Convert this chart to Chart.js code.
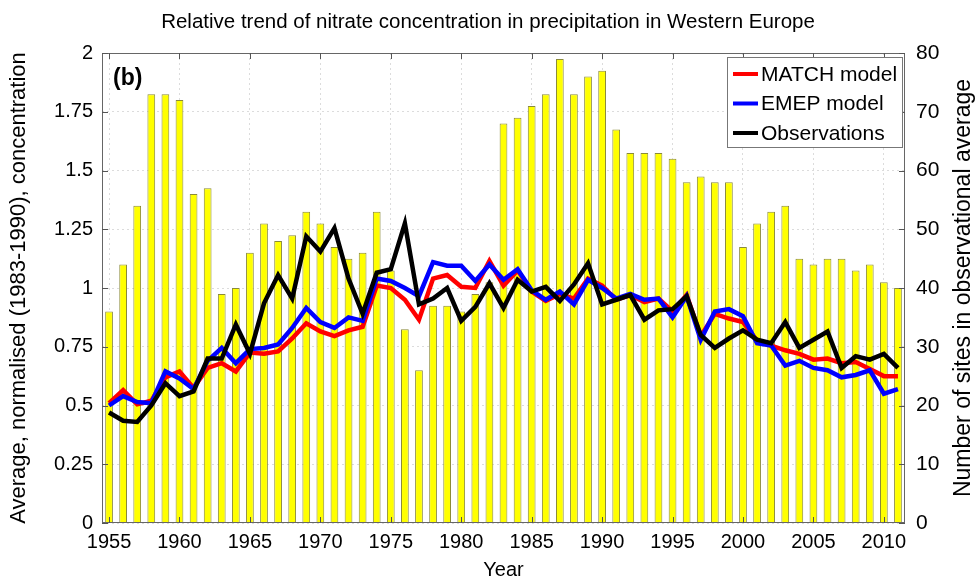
<!DOCTYPE html>
<html>
<head>
<meta charset="utf-8">
<script src="https://cdn.jsdelivr.net/npm/chart.js@4.4.1/dist/chart.umd.min.js"></script>
<style>
  html, body { margin: 0; padding: 0; background: #fff; }
  #wrap { width: 976px; height: 583px; }
</style>
</head>
<body>
<div id="wrap"><canvas id="nitrateChart" width="976" height="583"></canvas></div>
<script>
// years on the x axis
const years = [
  1955, 1956, 1957, 1958, 1959, 1960, 1961, 1962, 1963, 1964,
  1965, 1966, 1967, 1968, 1969, 1970, 1971, 1972, 1973, 1974,
  1975, 1976, 1977, 1978, 1979, 1980, 1981, 1982, 1983, 1984,
  1985, 1986, 1987, 1988, 1989, 1990, 1991, 1992, 1993, 1994,
  1995, 1996, 1997, 1998, 1999, 2000, 2001, 2002, 2003, 2004,
  2005, 2006, 2007, 2008, 2009, 2010, 2011
];

// number of sites in the observational average (right axis, bars)
const siteCounts = [
  36, 44, 54, 73, 73, 72, 56, 57, 39, 40,
  46, 51, 48, 49, 53, 51, 47, 45, 46, 53,
  43, 33, 26, 37, 37, 36, 39, 41, 68, 69,
  71, 73, 79, 73, 76, 77, 67, 63, 63, 63,
  62, 58, 59, 58, 58, 47, 51, 53, 54, 45,
  44, 45, 45, 43, 44, 41, 40
];

// MATCH model, normalised concentration
const matchModel = [
  0.51, 0.565, 0.505, 0.52, 0.62, 0.645, 0.575, 0.66, 0.68, 0.645,
  0.725, 0.72, 0.73, 0.785, 0.85, 0.815, 0.795, 0.82, 0.835, 1.01,
  1.0, 0.95, 0.865, 1.04, 1.055, 1.005, 1.0, 1.115, 1.01, 1.075,
  0.985, 0.945, 0.975, 0.955, 1.04, 1.01, 0.95, 0.97, 0.94, 0.955,
  0.9, 0.97, 0.795, 0.89, 0.87, 0.855, 0.775, 0.755, 0.735, 0.72,
  0.695, 0.70, 0.68, 0.685, 0.655, 0.625, 0.625
];

// EMEP model, normalised concentration
const emepModel = [
  0.50, 0.54, 0.515, 0.51, 0.645, 0.615, 0.57, 0.69, 0.745, 0.68,
  0.74, 0.745, 0.76, 0.83, 0.915, 0.855, 0.83, 0.875, 0.86, 1.04,
  1.03, 1.0, 0.965, 1.11, 1.095, 1.095, 1.03, 1.10, 1.035, 1.08,
  0.99, 0.95, 0.985, 0.93, 1.035, 1.0, 0.955, 0.975, 0.95, 0.955,
  0.875, 0.965, 0.78, 0.9, 0.91, 0.88, 0.765, 0.755, 0.67, 0.69,
  0.66, 0.65, 0.62, 0.63, 0.65, 0.55, 0.57
];

// observations, normalised concentration
const observations = [
  0.47, 0.435, 0.43, 0.50, 0.595, 0.54, 0.56, 0.70, 0.70, 0.845,
  0.72, 0.935, 1.055, 0.955, 1.22, 1.155, 1.255, 1.04, 0.89, 1.065,
  1.08, 1.275, 0.93, 0.955, 1.0, 0.86, 0.92, 1.02, 0.915, 1.035,
  0.985, 1.005, 0.945, 1.015, 1.105, 0.93, 0.95, 0.97, 0.865, 0.905,
  0.91, 0.965, 0.80, 0.745, 0.785, 0.82, 0.78, 0.765, 0.855, 0.745,
  0.78, 0.815, 0.66, 0.71, 0.695, 0.72, 0.66
];

const FONT = "'Liberation Sans', Arial, sans-serif";

// 枠線・内向き目盛り・凡例・(b)・右軸タイトルを描くプラグイン
const decorations = {
  id: 'decorations',
  afterDatasetsDraw(chart) {
    const { ctx, chartArea: a, scales } = chart;
    ctx.save();

    // frame
    ctx.strokeStyle = '#666';
    ctx.lineWidth = 1;
    ctx.strokeRect(a.left + 0.5, a.top + 0.5, a.right - a.left - 1, a.bottom - a.top - 1);

    // inward ticks
    ctx.strokeStyle = '#555';
    ctx.beginPath();
    scales.x.ticks.forEach((t, i) => {
      if (years[t.value] % 5 !== 0) return;
      const px = Math.round(scales.x.getPixelForTick(i)) + 0.5;
      ctx.moveTo(px, a.top); ctx.lineTo(px, a.top + 6);
      ctx.moveTo(px, a.bottom); ctx.lineTo(px, a.bottom - 6);
    });
    scales.y.ticks.forEach(t => {
      const py = Math.round(scales.y.getPixelForValue(t.value)) + 0.5;
      ctx.moveTo(a.left, py); ctx.lineTo(a.left + 6, py);
    });
    scales.y1.ticks.forEach(t => {
      const py = Math.round(scales.y1.getPixelForValue(t.value)) + 0.5;
      ctx.moveTo(a.right, py); ctx.lineTo(a.right - 6, py);
    });
    ctx.stroke();

    // panel label
    ctx.fillStyle = '#000';
    ctx.font = 'bold 23px ' + FONT;
    ctx.textAlign = 'left';
    ctx.textBaseline = 'middle';
    ctx.fillText('(b)', a.left + 11, a.top + 26);

    // legend (line datasets only)
    const lines = chart.data.datasets.filter(d => d.type === 'line')
      .sort((p, q) => p.legendIndex - q.legendIndex);
    const bx = 727, by = 57, bw = 175, bh = 90;
    ctx.fillStyle = '#fff';
    ctx.fillRect(bx, by, bw, bh);
    ctx.strokeStyle = '#777';
    ctx.lineWidth = 1;
    ctx.strokeRect(bx + 0.5, by + 0.5, bw, bh);
    ctx.font = '21px ' + FONT;
    lines.forEach((d, i) => {
      const ly = by + 17 + i * 29.5;
      ctx.strokeStyle = d.borderColor;
      ctx.lineWidth = 4;
      ctx.beginPath();
      ctx.moveTo(bx + 6, ly); ctx.lineTo(bx + 31, ly);
      ctx.stroke();
      ctx.fillStyle = '#000';
      ctx.fillText(d.label, bx + 34, ly + 1);
    });

    // right axis title, reading bottom to top
    ctx.save();
    ctx.translate(970, (a.top + a.bottom) / 2);
    ctx.rotate(-Math.PI / 2);
    ctx.textAlign = 'center';
    ctx.textBaseline = 'alphabetic';
    ctx.font = '23px ' + FONT;
    ctx.fillStyle = '#000';
    ctx.fillText('Number of sites in observational average', 0, 0);
    ctx.restore();

    ctx.restore();
  }
};

const gridColor = '#dcdcdc';

new Chart(document.getElementById('nitrateChart'), {
  type: 'bar',
  data: {
    labels: years,
    datasets: [
      {
        type: 'line',
        label: 'Observations',
        legendIndex: 2,
        data: observations,
        borderColor: '#000000',
        borderWidth: 4.5,
        pointRadius: 0,
        tension: 0,
        yAxisID: 'y',
        order: 1
      },
      {
        type: 'line',
        label: 'EMEP model',
        legendIndex: 1,
        data: emepModel,
        borderColor: '#0000ff',
        borderWidth: 4.5,
        pointRadius: 0,
        tension: 0,
        yAxisID: 'y',
        order: 2
      },
      {
        type: 'line',
        label: 'MATCH model',
        legendIndex: 0,
        data: matchModel,
        borderColor: '#ff0000',
        borderWidth: 4.5,
        pointRadius: 0,
        tension: 0,
        yAxisID: 'y',
        order: 3
      },
      {
        type: 'bar',
        label: 'Sites',
        data: siteCounts,
        backgroundColor: '#ffff00',
        borderColor: '#8a8a3a',
        borderWidth: 1,
        barPercentage: 0.55,
        categoryPercentage: 1.0,
        yAxisID: 'y1',
        order: 4
      }
    ]
  },
  options: {
    responsive: false,
    animation: false,
    layout: { padding: 0 },
    plugins: {
      legend: { display: false },
      tooltip: { enabled: false },
      title: {
        display: true,
        text: 'Relative trend of nitrate concentration in precipitation in Western Europe',
        color: '#000',
        font: { family: FONT, size: 20.5, weight: 'normal' },
        padding: { top: 10, bottom: 18.4 }
      }
    },
    scales: {
      x: {
        offset: true,
        grid: { offset: false, color: gridColor, drawTicks: false },
        border: { display: false, dash: [2, 3] },
        ticks: {
          autoSkip: false,
          maxRotation: 0,
          padding: 7,
          color: '#000',
          font: { family: FONT, size: 20 },
          callback: function (v) {
            const yr = years[v];
            return yr % 5 === 0 ? String(yr) : null;
          }
        },
        title: {
          display: true,
          text: 'Year',
          color: '#000',
          font: { family: FONT, size: 20 },
          padding: { top: 0, bottom: 1 }
        },
        afterFit: s => { s.height = 60; }
      },
      y: {
        position: 'left',
        min: 0,
        max: 2,
        grid: { color: gridColor, drawTicks: false },
        border: { display: false, dash: [2, 3] },
        ticks: {
          stepSize: 0.25,
          padding: 9,
          color: '#000',
          font: { family: FONT, size: 20 },
          callback: v => String(v)
        },
        title: {
          display: true,
          text: 'Average, normalised (1983-1990), concentration',
          color: '#000',
          font: { family: FONT, size: 22 },
          padding: { top: 6, bottom: 0 }
        },
        afterFit: s => { s.width = 102; }
      },
      y1: {
        position: 'right',
        min: 0,
        max: 80,
        grid: { drawOnChartArea: false, drawTicks: false },
        border: { display: false },
        ticks: {
          stepSize: 10,
          padding: 11,
          color: '#000',
          font: { family: FONT, size: 21 }
        },
        afterFit: s => { s.width = 71; }
      }
    }
  },
  plugins: [decorations]
});
</script>
</body>
</html>
